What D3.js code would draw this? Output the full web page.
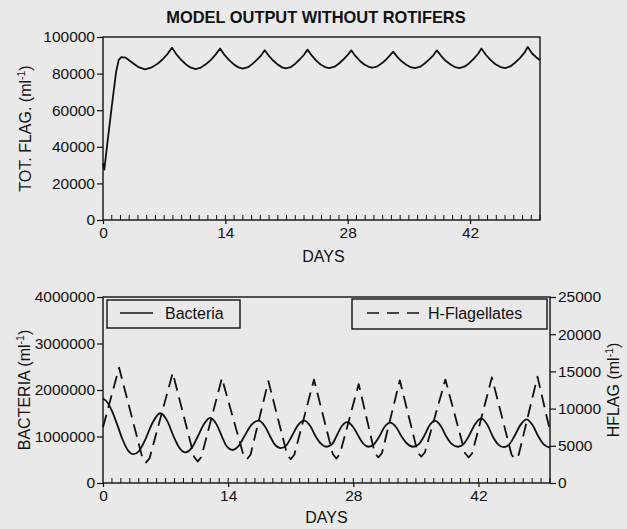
<!DOCTYPE html>
<html>
<head>
<meta charset="utf-8">
<script src="https://cdn.jsdelivr.net/npm/d3@7"></script>
<style>
  html, body { margin: 0; padding: 0; background: #e9e9e9; }
  svg { display: block; }
  text { font-family: "Liberation Sans", Arial, Helvetica, sans-serif; fill: #111; }
</style>
</head>
<body>
<svg id="chart" width="627" height="529"></svg>
<script>
// ---------------- DATA ----------------
const title = "MODEL OUTPUT WITHOUT ROTIFERS";
const xTickLabels = [0, 14, 28, 42];
const topYTicks = [0, 20000, 40000, 60000, 80000, 100000];
const bactTicks = [0, 1000000, 2000000, 3000000, 4000000];
const hflagTicks = [0, 5000, 10000, 15000, 20000, 25000];
const seriesNames = ["Bacteria", "H-Flagellates"];

// Top panel: total flagellates (ml^-1) vs days
const topDays = [0, 0.15, 0.5, 1.0, 1.5, 1.8, 2.1, 2.6, 3.2, 4.0, 4.8,
  5.5, 6.2, 6.8, 7.4, 7.9, 8.4, 8.9, 9.5, 10.0, 10.6,
  11.2, 11.8, 12.4, 12.9, 13.4, 13.9, 14.4, 15.0, 15.5, 16.0,
  16.6, 17.1, 17.6, 18.1, 18.5, 19.0, 19.5, 20.0, 20.5, 20.9,
  21.5, 22.0, 22.5, 23.0, 23.4, 23.9, 24.4, 24.9, 25.4, 25.9,
  26.5, 27.0, 27.5, 28.0, 28.4, 28.9, 29.4, 29.9, 30.4, 30.8,
  31.4, 31.9, 32.4, 32.8, 33.2, 33.7, 34.2, 34.7, 35.2, 35.7,
  36.3, 36.8, 37.3, 37.8, 38.2, 38.7, 39.2, 39.8, 40.3, 40.8,
  41.4, 41.9, 42.4, 42.9, 43.3, 43.8, 44.3, 44.9, 45.5, 46.0,
  46.6, 47.1, 47.7, 48.2, 48.6, 49.1, 49.6, 50.0];
const totFlag = [31000, 27500, 42000, 62000, 81000, 87500, 89000, 88700, 86500, 83700, 82300,
  83200, 85200, 87700, 90800, 94200, 90500, 87700, 85000, 83400, 82500,
  83300, 85200, 87800, 90500, 93700, 90200, 87500, 84900, 83400, 82700,
  83500, 85300, 87500, 90000, 92800, 89600, 87000, 84900, 83400, 82800,
  83600, 85400, 87700, 90300, 93100, 89800, 87100, 85000, 83600, 83000,
  83800, 85500, 87700, 90200, 92700, 89500, 86900, 85000, 83700, 83200,
  84000, 85600, 87700, 89800, 92000, 89000, 86600, 84800, 83500, 83000,
  83800, 85500, 87600, 90000, 92700, 89600, 87000, 84800, 83500, 83000,
  83900, 85700, 88000, 90700, 93700, 90300, 87600, 85100, 83600, 83000,
  83900, 85800, 88500, 91300, 94500, 91000, 88800, 87300];

// Bottom panel: bacteria (ml^-1, left axis)
const bactDays = [0, 0.5, 1.0, 1.6, 2.2, 2.8, 3.4, 4.0, 4.7, 5.5, 6.4,
  7.2, 7.9, 8.5, 9.2, 9.9, 10.6, 11.3, 12.0, 12.7, 13.3, 13.8, 14.5,
  15.1, 15.8, 16.6, 17.4, 18.1, 18.7, 19.2, 19.9, 20.5, 21.1, 21.8, 22.5,
  23.2, 23.8, 24.4, 25.0, 25.6, 26.1, 26.7, 27.3, 28.0, 28.6, 29.1, 29.7,
  30.3, 30.9, 31.5, 32.1, 32.8, 33.4, 34.0, 34.7, 35.3, 35.9, 36.5, 37.1,
  37.8, 38.4, 39.0, 39.7, 40.3, 40.9, 41.6, 42.3, 43.0, 43.6, 44.2, 44.8,
  45.4, 46.0, 46.7, 47.4, 48.1, 48.7, 49.3, 50.0];
const bacteria = [1820000, 1730000, 1550000, 1250000, 930000, 700000, 620000, 680000, 920000, 1280000, 1500000,
  1330000, 1000000, 770000, 660000, 750000, 1000000, 1270000, 1400000, 1260000, 1000000, 800000, 710000,
  780000, 1000000, 1250000, 1340000, 1220000, 1000000, 830000, 750000, 810000, 1000000, 1240000, 1340000,
  1220000, 1000000, 840000, 780000, 830000, 1000000, 1220000, 1310000, 1200000, 1000000, 850000, 780000,
  830000, 1000000, 1210000, 1300000, 1200000, 1000000, 850000, 780000, 830000, 1000000, 1230000, 1340000,
  1220000, 1000000, 840000, 780000, 830000, 1000000, 1260000, 1390000, 1250000, 1000000, 830000, 770000,
  820000, 1000000, 1250000, 1370000, 1230000, 1000000, 830000, 760000];

// Bottom panel: heterotrophic flagellates (ml^-1, right axis)
const hflagDays = [0, 1.8, 4.4, 4.8, 5.2, 7.8, 10.2, 10.6, 11.0, 13.3, 15.7, 16.1, 16.5,
  18.5, 20.6, 21.0, 21.4, 23.6, 25.7, 26.1, 26.5, 28.6, 30.4, 30.8, 31.2,
  33.2, 35.2, 35.6, 36.0, 38.3, 40.5, 40.9, 41.3, 43.5, 45.7, 46.1, 46.5, 48.6, 50.0];
const hflag = [7500, 15500, 3400, 2750, 3300, 14800, 3500, 2900, 3500, 14100, 3800, 3200, 3800,
  13700, 3800, 3200, 3800, 13900, 3900, 3300, 3900, 13300, 4000, 3450, 4000,
  13800, 4100, 3550, 4100, 13900, 4000, 3450, 4000, 14200, 3800, 3250, 3800, 14300, 7000];

// ---------------- LAYOUT ----------------
const svg = d3.select("#chart");
const ink = "#111";
const paper = "#e9e9e9";
const tickFont = 15.5;
const labelFont = 16;

const topBox = { x0: 103, x1: 540, y0: 37, y1: 220 };
const botBox = { x0: 103, x1: 550, y0: 297, y1: 483 };

function mlLabel(g, text, x, y) {
  const t = g.append("text")
    .attr("transform", `translate(${x},${y}) rotate(-90)`)
    .attr("text-anchor", "middle")
    .attr("font-size", labelFont);
  t.append("tspan").text(text + " (ml");
  t.append("tspan").attr("dy", -6).attr("font-size", 10.5).text("-1");
  t.append("tspan").attr("dy", 6).text(")");
}

function styleAxis(g) {
  g.select(".domain").remove();
  g.selectAll("line").attr("stroke", ink).attr("stroke-width", 1.2);
  g.selectAll("text").attr("font-size", tickFont).attr("fill", ink)
    .attr("font-family", '"Liberation Sans", Arial, sans-serif');
}

function dayAxis(box, xScale) {
  const days = d3.range(1, 51);
  svg.append("g").selectAll("line").data(days).join("line")
    .attr("x1", d => xScale(d)).attr("x2", d => xScale(d))
    .attr("y1", box.y1).attr("y2", box.y1 - 5)
    .attr("stroke", ink).attr("stroke-width", 1);
  const ax = d3.axisBottom(xScale).tickValues(xTickLabels).tickSize(4).tickPadding(3).tickSizeOuter(0);
  styleAxis(svg.append("g").attr("transform", `translate(0,${box.y1})`).call(ax));
}

function frame(box) {
  svg.append("rect").attr("x", box.x0).attr("y", box.y0)
    .attr("width", box.x1 - box.x0).attr("height", box.y1 - box.y0)
    .attr("fill", "none").attr("stroke", ink).attr("stroke-width", 1.4);
}

// ---------------- TOP PANEL ----------------
svg.append("text").attr("x", 316).attr("y", 23).attr("text-anchor", "middle")
  .attr("font-size", 16.4).attr("font-weight", "bold").text(title);

const xTop = d3.scaleLinear().domain([0, 50]).range([topBox.x0, topBox.x1]);
const yTop = d3.scaleLinear().domain([0, 100000]).range([topBox.y1, topBox.y0]);

styleAxis(svg.append("g").attr("transform", `translate(${topBox.x0},0)`)
  .call(d3.axisLeft(yTop).tickValues(topYTicks).tickSize(6).tickPadding(2).tickFormat(d3.format("d"))));
dayAxis(topBox, xTop);
frame(topBox);

svg.append("path")
  .datum(topDays.map((d, i) => [d, totFlag[i]]))
  .attr("fill", "none").attr("stroke", ink).attr("stroke-width", 1.8)
  .attr("stroke-linejoin", "round")
  .attr("d", d3.line().x(d => xTop(d[0])).y(d => yTop(d[1])).curve(d3.curveLinear));

mlLabel(svg, "TOT. FLAG.", 31, (topBox.y0 + topBox.y1) / 2);
svg.append("text").attr("x", (topBox.x0 + topBox.x1) / 2 + 2).attr("y", 262)
  .attr("text-anchor", "middle").attr("font-size", labelFont).text("DAYS");

// ---------------- BOTTOM PANEL ----------------
const xBot = d3.scaleLinear().domain([0, 50]).range([botBox.x0, botBox.x1]);
const yBact = d3.scaleLinear().domain([0, 4000000]).range([botBox.y1, botBox.y0]);
const yHflag = d3.scaleLinear().domain([0, 25000]).range([botBox.y1, botBox.y0]);

styleAxis(svg.append("g").attr("transform", `translate(${botBox.x0},0)`)
  .call(d3.axisLeft(yBact).tickValues(bactTicks).tickSize(6).tickPadding(2).tickFormat(d3.format("d"))));
styleAxis(svg.append("g").attr("transform", `translate(${botBox.x1},0)`)
  .call(d3.axisRight(yHflag).tickValues(hflagTicks).tickSize(6).tickPadding(2).tickFormat(d3.format("d"))));
dayAxis(botBox, xBot);
frame(botBox);

svg.append("path")
  .datum(bactDays.map((d, i) => [d, bacteria[i]]))
  .attr("fill", "none").attr("stroke", ink).attr("stroke-width", 1.8)
  .attr("d", d3.line().x(d => xBot(d[0])).y(d => yBact(d[1])).curve(d3.curveMonotoneX));

svg.append("path")
  .datum(hflagDays.map((d, i) => [d, hflag[i]]))
  .attr("fill", "none").attr("stroke", ink).attr("stroke-width", 1.8)
  .attr("stroke-dasharray", "13,7").attr("stroke-linejoin", "round")
  .attr("d", d3.line().x(d => xBot(d[0])).y(d => yHflag(d[1])).curve(d3.curveLinear));

// Legends
const leg1 = svg.append("g");
leg1.append("rect").attr("x", 107).attr("y", 300).attr("width", 133).attr("height", 28)
  .attr("fill", paper).attr("stroke", ink).attr("stroke-width", 1.4);
leg1.append("line").attr("x1", 120).attr("x2", 153).attr("y1", 313).attr("y2", 313)
  .attr("stroke", ink).attr("stroke-width", 1.6);
leg1.append("text").attr("x", 165).attr("y", 319).attr("font-size", labelFont).text(seriesNames[0]);

const leg2 = svg.append("g");
leg2.append("rect").attr("x", 352).attr("y", 299).attr("width", 195).attr("height", 30)
  .attr("fill", paper).attr("stroke", ink).attr("stroke-width", 1.4);
leg2.append("line").attr("x1", 367).attr("x2", 419).attr("y1", 313).attr("y2", 313)
  .attr("stroke", ink).attr("stroke-width", 1.6).attr("stroke-dasharray", "12,8");
leg2.append("text").attr("x", 428).attr("y", 319).attr("font-size", labelFont).text(seriesNames[1]);

mlLabel(svg, "BACTERIA", 30, (botBox.y0 + botBox.y1) / 2);
mlLabel(svg, "HFLAG", 619, (botBox.y0 + botBox.y1) / 2);
svg.append("text").attr("x", (botBox.x0 + botBox.x1) / 2).attr("y", 523)
  .attr("text-anchor", "middle").attr("font-size", labelFont).text("DAYS");
</script>
</body>
</html>
